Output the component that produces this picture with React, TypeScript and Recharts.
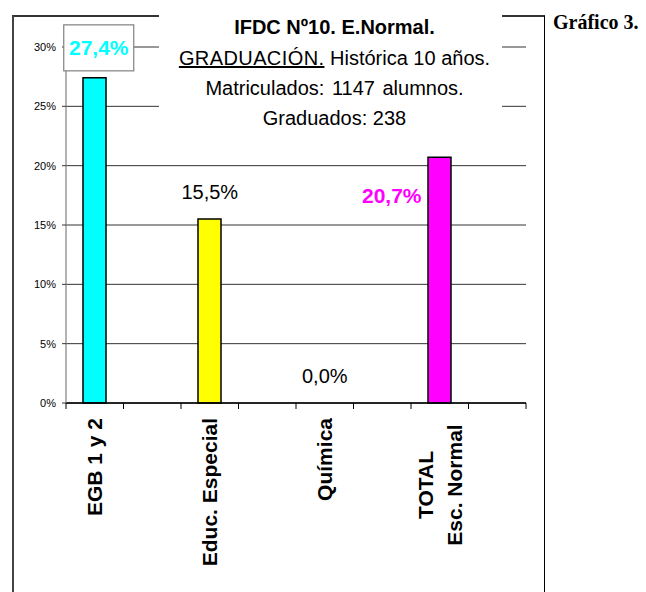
import React from 'react';
import { ComposedChart, Bar, Line, XAxis, YAxis, CartesianGrid, Cell, LabelList } from 'recharts';

const categories = ['EGB 1 y 2', '', 'Educ. Especial', '', 'Química', '', 'TOTAL\nEsc. Normal', ''];
const values: (number | null)[] = [27.4, null, 15.5, null, 0, null, 20.7, null];
const barColors = ['#00FFFF', '#FFFFFF', '#FFFF00', '#FFFFFF', '#C0C0C0', '#FFFFFF', '#FF00FF', '#FFFFFF'];
const yTicks = [0, 5, 10, 15, 20, 25, 30];
const titleLines = ['IFDC Nº10. E.Normal.', 'GRADUACIÓN.', ' Histórica 10 años.', 'Matriculados: 1147 alumnos.', 'Graduados: 238'];
const sideNote = 'Gráfico 3.';

const data = categories.map((name, i) => ({ key: `c${i}`, name, value: values[i] }));

const FONT = '"Liberation Sans", Arial, Helvetica, sans-serif';

const fmt = (v: number) => v.toFixed(1).replace('.', ',') + '%';

const XTick = (props: any) => {
  const { x, y, payload, index } = props;
  const off = payload && payload.offset ? payload.offset : 28.75;
  const label = categories[index] || '';
  const lines = label.split('\n').filter((l) => l.length > 0);
  const axisY = y - 6;
  const isLast = index === categories.length - 1;
  return (
    <g>
      <line x1={x - off} x2={x - off} y1={axisY} y2={axisY + 6} stroke="#000" strokeWidth={1} />
      {isLast && <line x1={x + off} x2={x + off} y1={axisY} y2={axisY + 6} stroke="#000" strokeWidth={1} />}
      {lines.length === 1 && (
        <text
          transform={`translate(${x},${y}) rotate(-90)`}
          x={-9}
          y={7.5}
          textAnchor="end"
          fontFamily={FONT}
          fontWeight="bold"
          fontSize={21}
          fill="#000"
        >
          {lines[0]}
        </text>
      )}
      {lines.length > 1 &&
        lines.map((l, i) => (
          <text
            key={i}
            transform={`translate(${x},${y}) rotate(-90)`}
            x={-76}
            y={-7 + i * 29}
            textAnchor="middle"
            fontFamily={FONT}
            fontWeight="bold"
            fontSize={21}
            fill="#000"
          >
            {l}
          </text>
        ))}
    </g>
  );
};

const ValueLabel = (props: any) => {
  const { x, y, value, index } = props;
  if (value === null || value === undefined || y === null || y === undefined || Number.isNaN(y)) return null;
  const cx = x;
  const text = fmt(Number(value));
  if (index === 0) {
    const bx = cx + 4;
    const by = y - 30;
    return (
      <g>
        <rect x={bx - 35} y={by - 23} width={70} height={46} fill="#fff" stroke="#808080" strokeWidth={1.2} />
        <text x={bx} y={by + 7.5} textAnchor="middle" fontFamily={FONT} fontWeight="bold" fontSize={21} fill="#00FFFF">
          {text}
        </text>
      </g>
    );
  }
  if (index === 6) {
    return (
      <text x={cx - 48} y={y + 38 + 7.5} textAnchor="middle" fontFamily={FONT} fontWeight="bold" fontSize={21} fill="#FF00FF">
        {text}
      </text>
    );
  }
  return (
    <text x={cx} y={y - 27 + 7} textAnchor="middle" fontFamily={FONT} fontSize={20} fill="#000">
      {text}
    </text>
  );
};

export default function App() {
  return (
    <div style={{ position: 'absolute', left: 0, top: 0, width: 646, height: 592, background: '#fff', overflow: 'hidden' }}>
      <div
        style={{
          position: 'absolute',
          left: 12,
          top: 15,
          width: 530,
          height: 620,
          borderLeft: '2px solid #444',
          borderTop: '2px solid #333',
          borderRight: '1.5px solid #000',
        }}
      />
      <div style={{ position: 'absolute', left: 0, top: 0 }}>
        <ComposedChart width={646} height={592} data={data} margin={{ top: 47, right: 120, bottom: 0, left: 0 }}>
          <CartesianGrid vertical={false} stroke="#333" strokeWidth={1} />
          <XAxis
            dataKey="key"
            interval={0}
            tickLine={false}
            tickSize={6}
            tickMargin={0}
            height={189}
            axisLine={{ stroke: '#000', strokeWidth: 1.5 }}
            tick={<XTick />}
          />
          <YAxis
            width={66}
            domain={[0, 30]}
            ticks={yTicks}
            interval={0}
            tickFormatter={(v: number) => `${v}%`}
            tickSize={4}
            tickMargin={6}
            axisLine={{ stroke: '#808080', strokeWidth: 1.2 }}
            tickLine={{ stroke: '#333' }}
            tick={{ fontFamily: FONT, fontSize: 11, fill: '#000' }}
          />
          <Bar dataKey="value" barSize={23} stroke="#000" strokeWidth={1.5} isAnimationActive={false}>
            {data.map((d, i) => (
              <Cell key={d.key} fill={barColors[i]} />
            ))}
          </Bar>
          <Line
            dataKey="value"
            stroke="none"
            dot={false}
            activeDot={false}
            connectNulls={false}
            isAnimationActive={false}
            legendType="none"
          >
            <LabelList dataKey="value" content={<ValueLabel />} />
          </Line>
        </ComposedChart>
      </div>
      <div
        style={{
          position: 'absolute',
          left: 159,
          top: 0,
          width: 343,
          height: 132,
          background: '#fff',
          fontFamily: FONT,
          fontSize: 20,
          lineHeight: '30px',
          textAlign: 'center',
          color: '#000',
          paddingTop: 12,
          boxSizing: 'border-box',
          paddingLeft: 8,
        }}
      >
        <div style={{ fontWeight: 'bold', marginBottom: 1 }}>{titleLines[0]}</div>
        <div>
          <span style={{ textDecoration: 'underline', letterSpacing: 0.4 }}>{titleLines[1]}</span>
          {titleLines[2]}
        </div>
        <div style={{ wordSpacing: 2 }}>{titleLines[3]}</div>
        <div>{titleLines[4]}</div>
      </div>
      <div
        style={{
          position: 'absolute',
          left: 553,
          top: 11,
          fontFamily: '"Liberation Serif", "Times New Roman", serif',
          fontWeight: 'bold',
          fontSize: 20,
          color: '#000',
          whiteSpace: 'nowrap',
        }}
      >
        {sideNote}
      </div>
    </div>
  );
}
